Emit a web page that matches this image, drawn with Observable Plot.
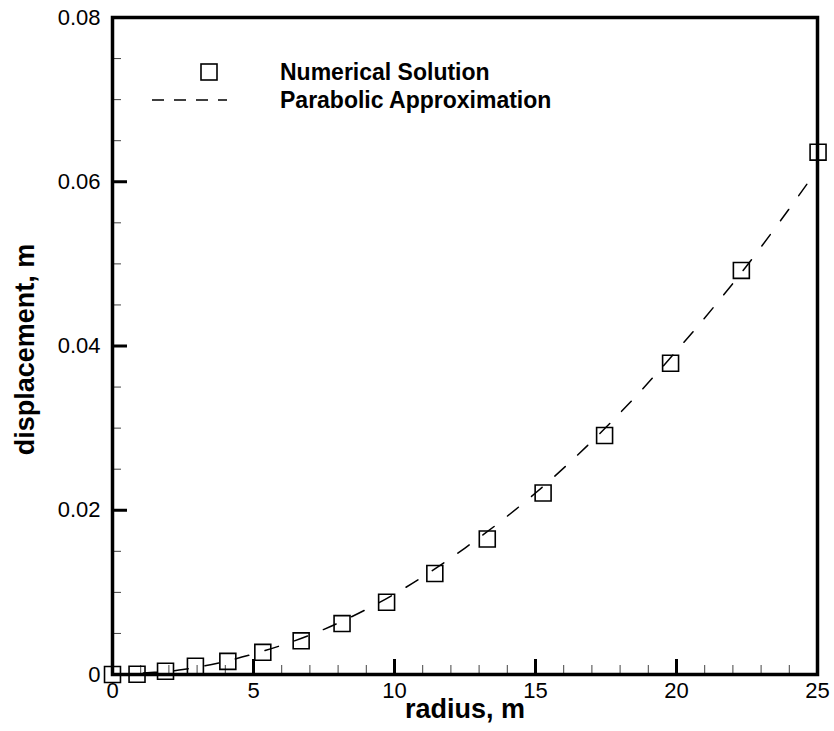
<!DOCTYPE html>
<html><head><meta charset="utf-8">
<script src="https://cdn.jsdelivr.net/npm/d3@7"></script>
<script src="https://cdn.jsdelivr.net/npm/@observablehq/plot@0.6"></script>
<style>body{margin:0;background:#fff}#chart{position:relative;width:834px;height:731px}</style>
</head><body><div id="chart"></div>
<script>
// Numerical solution (squares)
const radius = [0, 0.87, 1.88, 2.94, 4.09, 5.33, 6.69, 8.14, 9.72, 11.43, 13.29, 15.27, 17.45, 19.79, 22.3, 25.02];
const displacement = [0, 0.00003, 0.0004, 0.001, 0.0016, 0.0027, 0.0041, 0.0062, 0.0088, 0.0123, 0.0165, 0.0221, 0.0291, 0.0379, 0.0492, 0.0636];
// Parabolic approximation (dashed line)
const fitRadius = [0, 2.5, 5, 7.5, 10, 12.5, 15, 17.5, 20, 22.5, 25];
const fitDisplacement = [0, 0.0006, 0.0025, 0.0055, 0.0098, 0.0154, 0.0221, 0.0301, 0.0394, 0.0498, 0.0615];
// Axes
const xTicks = [0, 5, 10, 15, 20, 25];
const xTickLabels = ["0", "5", "10", "15", "20", "25"];
const yTicks = [0, 0.02, 0.04, 0.06, 0.08];
const yTickLabels = ["0", "0.02", "0.04", "0.06", "0.08"];
const xMinor = [1,2,3,4,6,7,8,9,11,12,13,14,16,17,18,19,21,22,23,24];
const yMinor = [0.005,0.01,0.015,0.025,0.03,0.035,0.045,0.05,0.055,0.065,0.07,0.075];
const seriesNames = ["Numerical Solution", "Parabolic Approximation"];
const xTitle = "radius, m";
const yTitle = "displacement, m";

const W = 834, H = 731;
const mL = 112, mR = 17, mT = 17, mB = 57;
const plotW = W - mL - mR, plotH = H - mT - mB;
const FONT = "'Liberation Sans', Arial, sans-serif";

const points = radius.map((r, i) => ({radius: r, disp: displacement[i]}));
const fit = fitRadius.map((r, i) => ({radius: r, disp: fitDisplacement[i]}));

const overlay = (index, scales, values, dims) => {
  const g = d3.create("svg:g").attr("font-family", FONT);
  const sx = mL + 97, sy1 = mT + 55, sy2 = mT + 83;
  g.append("rect").attr("x", sx - 8).attr("y", sy1 - 8).attr("width", 16).attr("height", 16)
    .attr("fill", "none").attr("stroke", "black").attr("stroke-width", 1.6);
  g.append("line").attr("x1", mL + 40).attr("x2", mL + 115).attr("y1", sy2).attr("y2", sy2)
    .attr("stroke", "black").attr("stroke-width", 1.5).attr("stroke-dasharray", "12,10");
  g.selectAll("text.lg").data(seriesNames).join("text")
    .attr("class", "lg")
    .attr("x", mL + 168).attr("y", (d, i) => (i === 0 ? sy1 : sy2))
    .attr("dy", "0.35em").attr("text-anchor", "start")
    .attr("font-size", 23).attr("font-weight", "bold").attr("fill", "black")
    .text(d => d);
  // y-axis title
  g.append("text")
    .attr("transform", `translate(25,${(mT + H - mB) / 2 + 4}) rotate(-90)`)
    .attr("text-anchor", "middle").attr("dy", "0.35em")
    .attr("font-size", 27).attr("font-weight", "bold").attr("fill", "black")
    .text(yTitle);
  return g.node();
};

const chart = Plot.plot({
  width: W, height: H,
  marginLeft: mL, marginRight: mR, marginTop: mT, marginBottom: mB,
  style: {fontFamily: FONT, fontSize: "22px", background: "white", color: "black"},
  x: {domain: [0, 25]},
  y: {domain: [0, 0.08]},
  marks: [
    Plot.axisX(xTicks, {tickSize: 0, tickPadding: 8, label: null, fontSize: 22, tickFormat: d => xTickLabels[xTicks.indexOf(d)]}),
    Plot.axisY(yTicks, {tickSize: 0, tickPadding: 12, label: null, fontSize: 22, tickFormat: d => yTickLabels[yTicks.indexOf(d)]}),
    Plot.tickX(xMinor, {x: d => d, insetTop: plotH - 9, stroke: "#444", strokeWidth: 1}),
    Plot.tickY(yMinor, {y: d => d, insetRight: plotW - 9, stroke: "#444", strokeWidth: 1}),
    Plot.tickX(xTicks, {x: d => d, insetTop: plotH - 15, stroke: "black", strokeWidth: 3}),
    Plot.tickY(yTicks, {y: d => d, insetRight: plotW - 15, stroke: "black", strokeWidth: 3}),
    Plot.line(fit, {x: "radius", y: "disp", curve: "catmull-rom", stroke: "black", strokeWidth: 1.5, strokeDasharray: "14,17"}),
    Plot.frame({stroke: "black", strokeWidth: 3.5}),
    Plot.dot(points, {x: "radius", y: "disp", symbol: "square", r: 9, stroke: "black", strokeWidth: 1.6, fill: "none"}),
    Plot.text([xTitle], {frameAnchor: "bottom", dy: 43, fontSize: 27, fontWeight: "bold", fill: "black"}),
    overlay
  ]
});
document.getElementById("chart").appendChild(chart);
</script>
</body></html>
